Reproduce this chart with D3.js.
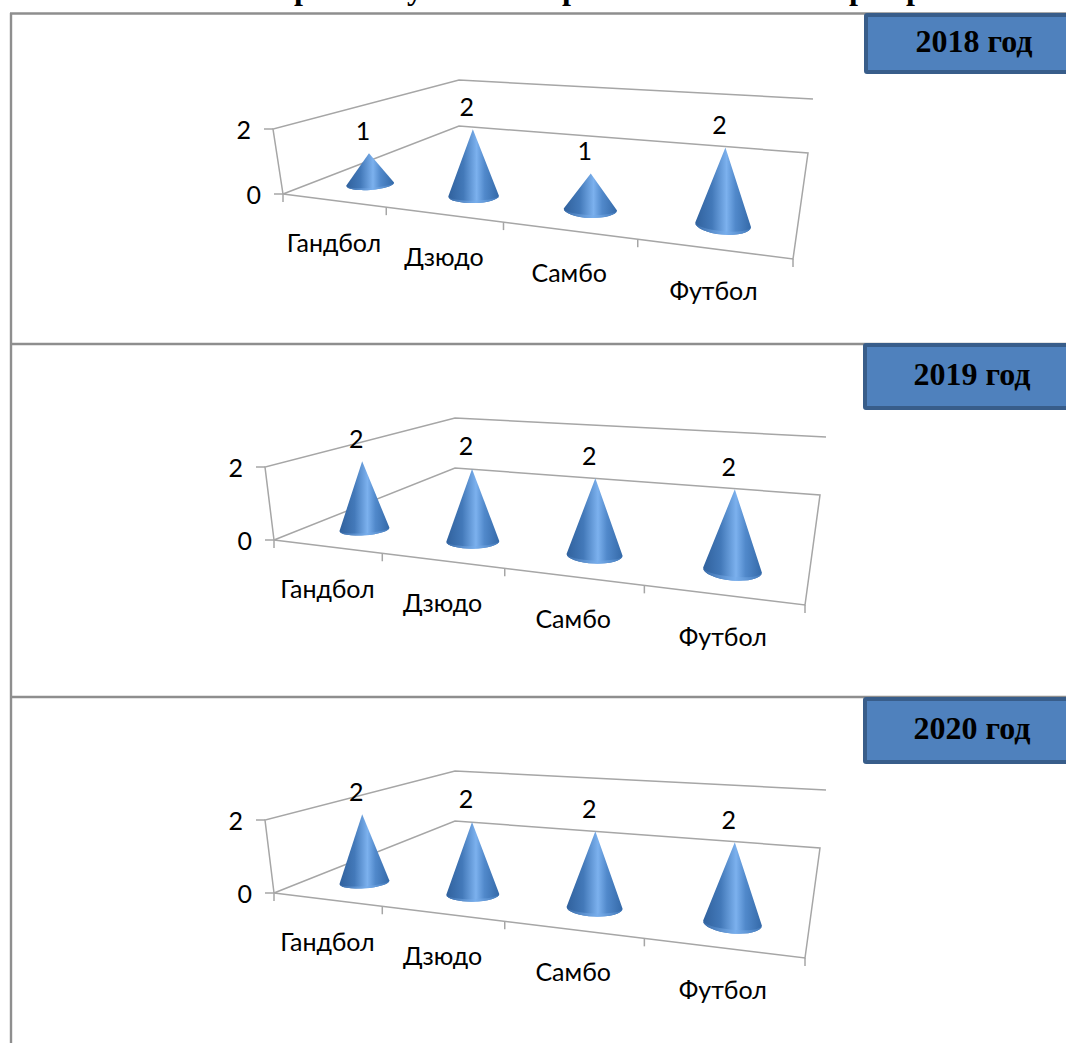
<!DOCTYPE html>
<html>
<head>
<meta charset="utf-8">
<script src="https://d3js.org/d3.v7.min.js"></script>
<style>
	html, body { margin: 0; padding: 0; background: #fff; }
	svg { display: block; }
	.lbl { font-family: "Lato", "Open Sans", sans-serif; font-size: 25px; fill: #000; }
	.yr { font-family: "Liberation Serif", serif; font-size: 32px; font-weight: bold; fill: #000; }
</style>
</head>
<body>
<script>
const categories = ["Гандбол", "Дзюдо", "Самбо", "Футбол"];
const years = ["2018 год", "2019 год", "2020 год"];
const values2018 = [1, 2, 1, 2];
const values2019 = [2, 2, 2, 2];
const values2020 = [2, 2, 2, 2];
const valueTicks = [0, 2];
// only the bottoms of the heading letters are left on the page
const headingLetters = ["р", "у", "р", "р", "р"];
const headingLeft = [294, 407, 562, 849, 906];

const W = 1066, H = 1043;
const svg = d3.select("body").append("svg").attr("width", W).attr("height", H);
const defs = svg.append("defs");

// cone shading, dark at the rims and light just right of the middle
const grad = defs.append("linearGradient").attr("id", "coneFill").attr("x1", 0).attr("x2", 1).attr("y1", 0).attr("y2", 0);
[[0, "#30619d"], [0.3, "#4379b9"], [0.56, "#7cb1ee"], [0.72, "#5189cb"], [1, "#3469a8"]].forEach(function(s) {
	grad.append("stop").attr("offset", s[0]).attr("stop-color", s[1]);
});
const rim = defs.append("linearGradient").attr("id", "coneRim").attr("x1", 0).attr("x2", 1).attr("y1", 0).attr("y2", 0);
[[0, "#3a6dab"], [0.55, "#78aeec"], [1, "#4279ba"]].forEach(function(s) {
	rim.append("stop").attr("offset", s[0]).attr("stop-color", s[1]);
});

headingLetters.forEach(function(c, i) {
	svg.append("text").attr("class", "yr").attr("x", headingLeft[i]).attr("y", -1).text(c);
});

// page frame lines
const frameColor = "#8e8e8e";
svg.append("line").attr("x1", 11).attr("x2", 11).attr("y1", 13).attr("y2", H).attr("stroke", frameColor).attr("stroke-width", 2.4);
[13.5, 344, 697].forEach(function(y) {
	svg.append("line").attr("x1", 10).attr("x2", W).attr("y1", y).attr("y2", y).attr("stroke", frameColor).attr("stroke-width", 2.4);
});

// perspective map of the unit square on to four floor corners
function homography(a, b, c, d) {
	// a=(0,0) b=(1,0) c=(1,1) d=(0,1)
	const dx1 = b[0] - c[0], dx2 = d[0] - c[0], sx = a[0] - b[0] + c[0] - d[0];
	const dy1 = b[1] - c[1], dy2 = d[1] - c[1], sy = a[1] - b[1] + c[1] - d[1];
	const den = dx1 * dy2 - dx2 * dy1;
	const g = (sx * dy2 - dx2 * sy) / den, h = (dx1 * sy - sx * dy1) / den;
	const p = b[0] - a[0] + g * b[0], q = d[0] - a[0] + h * d[0];
	const r = b[1] - a[1] + g * b[1], s = d[1] - a[1] + h * d[1];
	return function(u, v) {
		const w = g * u + h * v + 1;
		return [(p * u + q * v + a[0]) / w, (r * u + s * v + a[1]) / w];
	};
}

function drawPanel(opt, values, year) {
	const g = svg.append("g");
	const floor = homography(opt.a, opt.b, opt.c, opt.d);
	const last = categories.length - 1;
	const x = d3.scaleBand().domain(categories).range([0, 1]);
	const lift = d3.scaleLinear().domain([0, 2]).range([0, 1]);
	const radius = d3.scaleLinear().domain([0, last]).range(opt.radius);
	const squash = d3.scaleLinear().domain([0, last]).range([0.24, 0.35]);
	const tilt = d3.scaleLinear().domain([0, last]).range([-4, 5]);
	const line = d3.line();

	function addLine(pts) {
		g.append("path").attr("d", line(pts))
			.attr("fill", "none").attr("stroke", "#a6a6a6").attr("stroke-width", 1.5);
	}

	// walls and floor
	addLine([opt.a, opt.top0, opt.top1, opt.top2]);
	addLine([opt.a, opt.d, opt.c, opt.b, opt.a]);

	// value axis
	const axisY = d3.scaleLinear().domain([0, 2]).range([opt.a, opt.top0]);
	valueTicks.forEach(function(t) {
		const p = axisY(t);
		addLine([[p[0] - 9, p[1]], p]);
		g.append("text").attr("class", "lbl")
			.attr("x", p[0] - 22).attr("y", p[1] + 4)
			.attr("text-anchor", "end").attr("dominant-baseline", "middle").text(t);
	});

	// category ticks and labels along the front edge
	x.domain().forEach(function(c, i) {
		const p0 = floor(x(c), 0), p1 = floor(x(c) + x.bandwidth(), 0), pm = floor(x(c) + x.bandwidth() / 2, 0);
		addLine([p0, [p0[0], p0[1] + 8]]);
		if (i === last) addLine([p1, [p1[0], p1[1] + 8]]);
		g.append("text").attr("class", "lbl")
			.attr("x", pm[0] + 1).attr("y", pm[1] + 45)
			.attr("text-anchor", "middle").attr("dominant-baseline", "middle").text(c);
	});

	// cones
	categories.forEach(function(c, i) {
		const u = x(c) + x.bandwidth() / 2;
		const base = floor(u, opt.depth);
		const lean = d3.scaleLinear().domain([0, 1]).range(opt.rise)(u);
		const tall = d3.scaleLinear().domain([0, 1]).range(opt.height)(u);
		const k = lift(values[i]);
		const apex = [base[0] + lean * k, base[1] - tall * k];
		const rx = radius(i), ry = rx * squash(i), ang = tilt(i) * Math.PI / 180;
		const lx = base[0] - rx * Math.cos(ang), ly = base[1] - rx * Math.sin(ang);
		const rxE = base[0] + rx * Math.cos(ang), ryE = base[1] + rx * Math.sin(ang);
		const ell = "A" + rx + " " + ry + " " + tilt(i) + " 1 0 ";
		const cone = g.append("g");
		cone.append("path")
			.attr("d", "M" + apex[0] + " " + apex[1] + "L" + lx + " " + ly + ell + rxE + " " + ryE + "Z")
			.attr("fill", "url(#coneFill)");
		// lighter rim along the front of the base
		cone.append("path")
			.attr("d", "M" + lx + " " + ly + ell + rxE + " " + ryE + "A" + rx + " " + (ry * 0.65) + " " + tilt(i) + " 0 1 " + lx + " " + ly + "Z")
			.attr("fill", "url(#coneRim)");
		g.append("text").attr("class", "lbl")
			.attr("x", apex[0] - 6).attr("y", apex[1] - 20)
			.attr("text-anchor", "middle").attr("dominant-baseline", "middle").text(values[i]);
	});

	// year tag
	svg.append("rect").attr("x", opt.box[0] + 2).attr("y", opt.box[1] + 2).attr("width", W - opt.box[0]).attr("height", opt.box[2] - 4)
		.attr("rx", 1).attr("fill", "#4f81bd").attr("stroke", "#385d8a").attr("stroke-width", 4);
	svg.append("text").attr("class", "yr").attr("x", opt.box[3]).attr("y", opt.box[1] + opt.box[2] / 2 + 1)
		.attr("text-anchor", "middle").attr("dominant-baseline", "middle").text(year);
}

drawPanel({
	a: [283, 194], b: [793, 259], c: [808, 153], d: [459, 126],
	top0: [273, 129], top1: [459, 80], top2: [813, 99], depth: 0.165,
	rise: [-3, 3], height: [59, 80], radius: [24, 28], box: [864, 13, 61, 974]
}, values2018, years[0]);

drawPanel({
	a: [274, 540], b: [805, 605], c: [820, 495], d: [455, 468],
	top0: [265, 467], top1: [455, 418], top2: [826, 437], depth: 0.165,
	rise: [-3, 3], height: [66, 83], radius: [25, 29.5], box: [863, 343, 67, 972]
}, values2019, years[1]);

drawPanel({
	a: [274, 893], b: [805, 958], c: [820, 848], d: [455, 821],
	top0: [265, 820], top1: [455, 771], top2: [826, 790], depth: 0.165,
	rise: [-3, 3], height: [66, 83], radius: [25, 29.5], box: [863, 697, 67, 972]
}, values2020, years[2]);
</script>
</body>
</html>
